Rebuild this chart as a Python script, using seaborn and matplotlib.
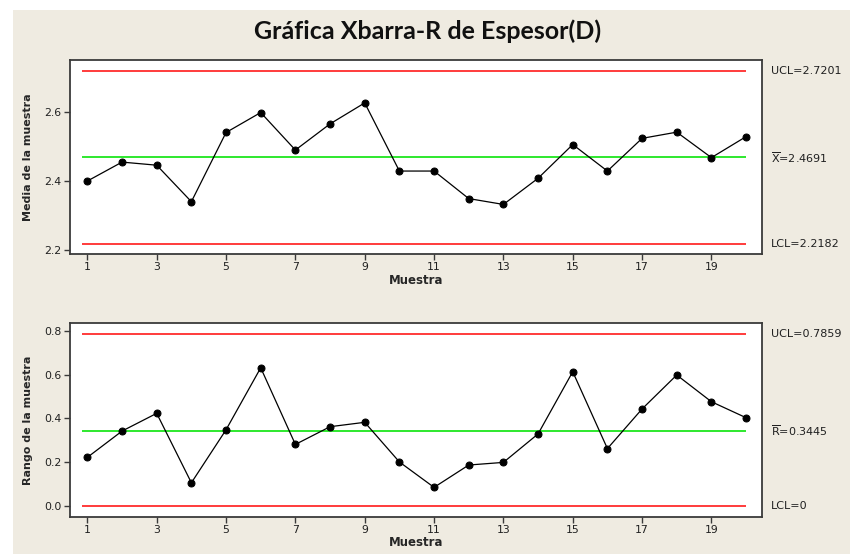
import matplotlib
matplotlib.use("Agg")
import matplotlib.pyplot as plt
import matplotlib.transforms as mtransforms
from matplotlib.patches import Rectangle
import seaborn as sns
import numpy as np
import pandas as pd

# Data
muestra = list(range(1, 21))
medias = [2.400, 2.455, 2.446, 2.340, 2.541, 2.599, 2.490, 2.566, 2.627, 2.429,
          2.429, 2.349, 2.332, 2.408, 2.506, 2.429, 2.524, 2.542, 2.468, 2.529]
rangos = [0.222, 0.342, 0.423, 0.106, 0.348, 0.631, 0.281, 0.362, 0.382, 0.201,
          0.085, 0.187, 0.199, 0.329, 0.613, 0.262, 0.443, 0.598, 0.476, 0.403]

xbar_limits = {"UCL": 2.7201, "CL": 2.4691, "LCL": 2.2182}
r_limits = {"UCL": 0.7859, "CL": 0.3445, "LCL": 0.0}
xbar_labels = ["UCL=2.7201", r"$\overline{\mathrm{X}}$=2.4691", "LCL=2.2182"]
r_labels = ["UCL=0.7859", r"$\overline{\mathrm{R}}$=0.3445", "LCL=0"]

df = pd.DataFrame({"Muestra": muestra, "Media": medias, "Rango": rangos})

sns.set_style("white")
plt.rcParams["font.family"] = ["DejaVu Sans"]
plt.rcParams["mathtext.fontset"] = "dejavusans"

BG = "#efebe1"
RED = "#ff3b3b"
GREEN = "#2ee82e"
SPINE = "#3a3a3a"

fig = plt.figure(figsize=(8.5, 5.54), dpi=100, facecolor="white")
# beige panel (white strip at top and left like the original)
fig.patches.append(Rectangle((13 / 850, 0), 1 - 13 / 850, 1 - 10 / 554,
                             transform=fig.transFigure, facecolor=BG,
                             edgecolor="none", zorder=-10))

ax1 = fig.add_axes([0.0824, 0.5415, 0.8137, 0.3502])
ax2 = fig.add_axes([0.0824, 0.0673, 0.8137, 0.3491])


def control_panel(ax, col, limits, labels, ylim, yticks, yfmt, ylabel):
    ax.set_facecolor("white")
    for key, color in (("UCL", RED), ("CL", GREEN), ("LCL", RED)):
        ax.hlines(limits[key], 0.85, 20.0, color=color, lw=1.4, zorder=1)
    sns.lineplot(data=df, x="Muestra", y=col, ax=ax, color="black", lw=0.9,
                 marker="o", markersize=5, markeredgecolor="black", zorder=3)
    ax.set_xlim(0.5, 20.45)
    ax.set_ylim(*ylim)
    ax.set_xticks(range(1, 21, 2))
    ax.set_yticks(yticks)
    ax.set_yticklabels([yfmt.format(v) for v in yticks])
    ax.tick_params(axis="both", direction="out", length=4, width=1,
                   color=SPINE, labelsize=7.8, labelcolor="#202020", pad=2,
                   left=True, bottom=True)
    for sp in ax.spines.values():
        sp.set_color(SPINE)
        sp.set_linewidth(1.3)
    ax.set_xlabel("Muestra", fontsize=8.5, fontweight="bold", labelpad=1)
    ax.set_ylabel(ylabel, fontsize=8, fontweight="bold", labelpad=8)
    trans = mtransforms.blended_transform_factory(ax.transAxes, ax.transData)
    for key, lab in zip(("UCL", "CL", "LCL"), labels):
        ax.text(1.0134, limits[key], lab, transform=trans, ha="left",
                va="center", fontsize=8, color="#202020")


control_panel(ax1, "Media", xbar_limits, xbar_labels, (2.188, 2.7516),
              [2.2, 2.4, 2.6], "{:.1f}", "Media de la muestra")
control_panel(ax2, "Rango", r_limits, r_labels, (-0.049, 0.834),
              [0.0, 0.2, 0.4, 0.6, 0.8], "{:.1f}", "Rango de la muestra")

fig.text(428 / 850, 1 - 31 / 554, "Gráfica Xbarra-R de Espesor(D)",
         ha="center", va="center", fontsize=18, fontweight="bold",
         family=["Lato", "DejaVu Sans"], color="#111111")

fig.savefig("out.png", dpi=100, facecolor=fig.get_facecolor())
